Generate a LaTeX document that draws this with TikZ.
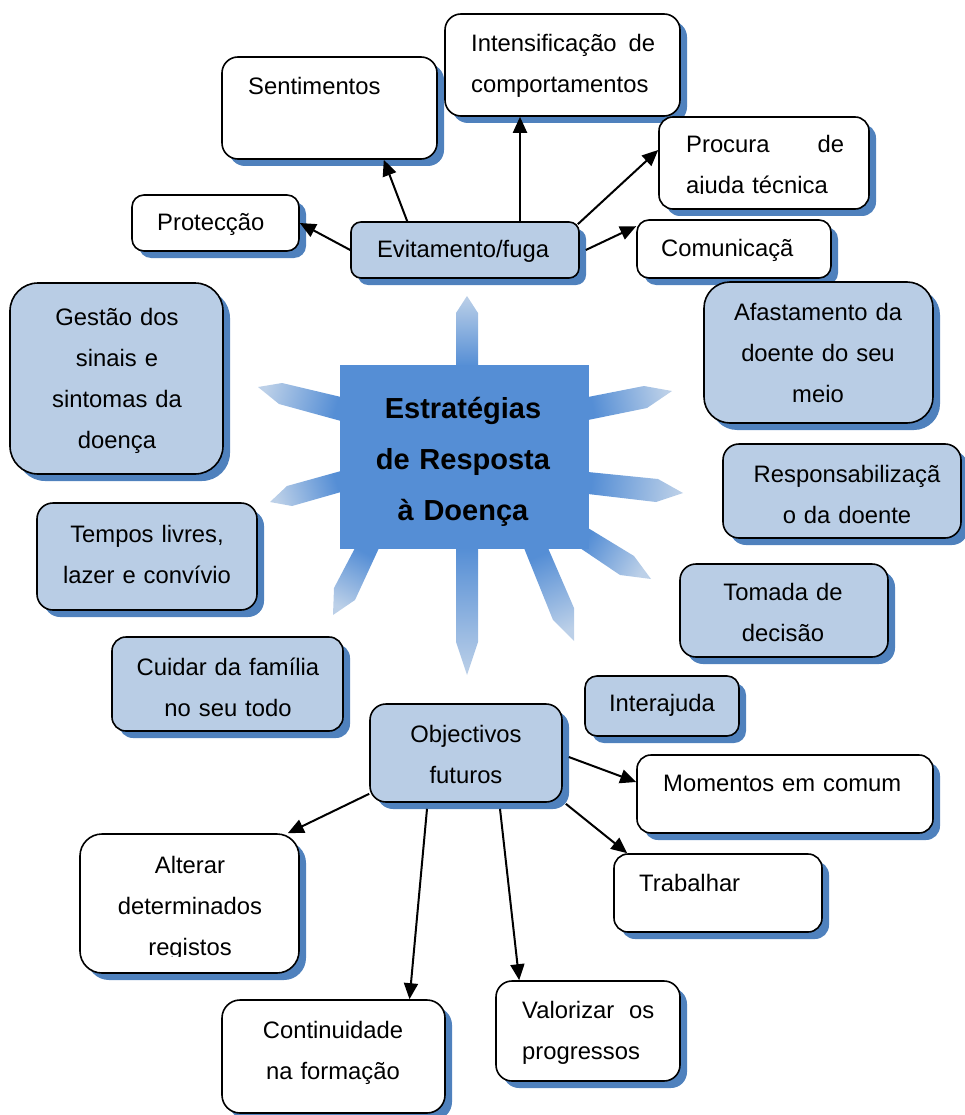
\documentclass[tikz,border=0pt]{standalone}
\usepackage{fontspec}
\setmainfont{Liberation Sans}
\usetikzlibrary{arrows.meta,shadows}
\definecolor{boxblue}{HTML}{B9CDE5}
\definecolor{shadowblue}{HTML}{4F81BD}
\definecolor{hubblue}{HTML}{558ED5}
\definecolor{raytip}{HTML}{BCD0E8}
\newcommand{\bodyfont}{\fontsize{23.8pt}{41pt}\selectfont}
\newcommand{\hubfont}{\bfseries\fontsize{29pt}{51pt}\selectfont}
\begin{document}
\begin{tikzpicture}[x=1pt,y=-1pt,
  card/.style={draw=black, line width=1.6pt, inner sep=0pt, rounded corners=#1,
    drop shadow={shadow xshift=7pt, shadow yshift=-7pt, fill=shadowblue, opacity=1}},
  wcard/.style={card=#1, fill=white},
  bcard/.style={card=#1, fill=boxblue},
  sz/.style 2 args={minimum width=#1pt, minimum height=#2pt},
  txt/.style={inner sep=0pt, font=\bodyfont, anchor=base},
  ctxt/.style={txt, text width=#1pt, align=center},
  ltxt/.style={txt, anchor=base west, text width=#1pt, align=left},
  arr/.style={line width=2pt, -{Triangle[length=16pt,width=14pt]}},
  ray/.style={bottom color=hubblue, top color=raytip, shading angle=#1}
]
\useasboundingbox (0,0) rectangle (964,1115);

% rays of the central star
\shade[ray=0]    (456,366) -- (456,313) -- (467,296) -- (478,313) -- (478,366) -- cycle;
\shade[ray=180]  (456,548) -- (456,642) -- (467,675) -- (478,642) -- (478,548) -- cycle;
\shade[ray=75]   (341,397) -- (282,383) -- (258,387) -- (279,404) -- (341,421) -- cycle;
\shade[ray=107]  (341,471) -- (287,486) -- (270,502) -- (292,506) -- (341,492) -- cycle;
\shade[ray=-78]  (588,397) -- (644,386) -- (672,391) -- (647,408) -- (588,420) -- cycle;
\shade[ray=-96]  (588,472) -- (658,479) -- (683,493) -- (656,502) -- (588,494) -- cycle;
\shade[ray=-121] (588,528) -- (634,556) -- (651,579) -- (620,575) -- (580,548) -- cycle;
\shade[ray=-157] (524,548) -- (553,620) -- (574,641) -- (574,608) -- (548,548) -- cycle;
\shade[ray=153]  (379,548) -- (355,600) -- (333,615) -- (334,588) -- (355,548) -- cycle;

% central hub
\node[fill=hubblue, sz={249}{184}, inner sep=0pt] (hub) at (464.5,457) {};
\node[txt, text width=240pt, align=center, font=\hubfont] (hubtxt) at (463,418)
  {Estratégias\\de Resposta\\à Doença};

% boxes
\node[wcard=16pt, sz={215}{102}] (sent)  at (329.5,108) {};
\node[wcard=12pt, sz={167}{56}]  (prot)  at (215.5,223) {};
\node[wcard=16pt, sz={235}{102}] (inten) at (562.5,65) {};
\node[wcard=14pt, sz={210}{92}]  (proc)  at (764,163) {};
\node[wcard=12pt, sz={194}{58}]  (comu)  at (734,249) {};
\node[bcard=10pt, sz={228}{56}]  (evit)  at (465,250) {};
\node[bcard=28pt, sz={213}{191}] (gest)  at (116.5,378.5) {};
\node[bcard=26pt, sz={229}{141}] (afast) at (818.5,352.5) {};
\node[bcard=16pt, sz={238}{94}]  (resp)  at (842,491) {};
\node[bcard=16pt, sz={208}{93}]  (toma)  at (784,610.5) {};
\node[bcard=16pt, sz={220}{107}] (temp)  at (147,556.5) {};
\node[bcard=14pt, sz={231}{94}]  (cuid)  at (227.5,684) {};
\node[bcard=16pt, sz={192}{98}]  (obj)   at (466,753) {};
\node[bcard=12pt, sz={154}{60}]  (inter) at (662,706) {};
\node[wcard=14pt, sz={296}{78}]  (mom)   at (785,794) {};
\node[wcard=14pt, sz={208}{78}]  (trab)  at (718,893) {};
\node[wcard=16pt, sz={184}{100}] (valo)  at (588,1031) {};
\node[wcard=22pt, sz={219}{139}] (alt)   at (189.5,903.5) {};
\node[wcard=18pt, sz={223}{113}] (cont)  at (333.5,1056.5) {};

% box texts
\node[ltxt=180] (senttxt) at (248,95) {Sentimentos};
\node[ltxt=150] (prottxt) at (157,230) {Protecção};
\node[ltxt=195] (intentxt) at (471,52) {\makebox[184pt]{Intensificação\hfill de}\\comportamentos};
\begin{scope}
  \clip (600,100) rectangle (900,194);
  \node[ltxt=170] (proctxt) at (686,153) {\makebox[158pt]{Procura\hfill de}\\ajuda técnica};
\end{scope}
\node[ltxt=180] (comutxt) at (661,256) {Comunicaçã};
\node[txt] (evittxt) at (463,258) {Evitamento/fuga};
\node[ctxt=200] (gesttxt) at (117,325) {Gestão dos\\sinais e\\sintomas da\\doença};
\node[ctxt=220] (afasttxt) at (818,320) {Afastamento da\\doente do seu\\meio};
\node[ctxt=230] (resptxt) at (847,482) {Responsabilizaçã\\o da doente};
\node[ctxt=200] (tomatxt) at (783,600) {Tomada de\\decisão};
\node[ctxt=210] (temptxt) at (147,542) {Tempos livres,\\lazer e convívio};
\node[ctxt=225] (cuidtxt) at (228,675) {Cuidar da família\\no seu todo};
\node[ctxt=180] (objtxt) at (466,742) {Objectivos\\futuros};
\node[txt] (intertxt) at (662,711) {Interajuda};
\node[ltxt=260] (momtxt) at (663,791) {Momentos em comum};
\node[ltxt=170] (trabtxt) at (639,891) {Trabalhar};
\node[ltxt=150] (valotxt) at (522,1018) {\makebox[132pt]{Valorizar\hfill os}\\progressos};
\begin{scope}
  \clip (60,820) rectangle (320,956);
  \node[ctxt=210] (alttxt) at (190,873) {Alterar\\determinados\\registos};
\end{scope}
\node[ctxt=210] (conttxt) at (333,1038) {Continuidade\\na formação};

% connectors
\draw[arr] (evit.west) -- (prot.east);
\draw[arr] ([xshift=57pt]evit.north west) -- ([xshift=-54pt]sent.south east);
\draw[arr] ([xshift=55pt]evit.north) -- ([xshift=55pt]evit.north |- inten.south);
\draw[arr] ([xshift=-2pt,yshift=-3pt]evit.north east) -- ([yshift=13pt]proc.west);
\draw[arr] ([xshift=6pt]evit.east) -- ([yshift=-7pt]comu.north west);
\draw[arr] ([yshift=9pt]obj.south west) -- ([xshift=-12pt]alt.north east);
\draw[arr] ([xshift=-39pt,yshift=-6pt]obj.south) -- ([xshift=76pt]cont.north);
\draw[arr] ([xshift=34pt,yshift=-6pt]obj.south) -- ([xshift=24pt]valo.north west);
\draw[arr] ([xshift=6pt,yshift=-4pt]obj.east) -- ([yshift=12pt]mom.west);
\draw[arr] ([xshift=3pt,yshift=-1pt]obj.south east) -- ([xshift=14pt]trab.north west);
\end{tikzpicture}
\end{document}
